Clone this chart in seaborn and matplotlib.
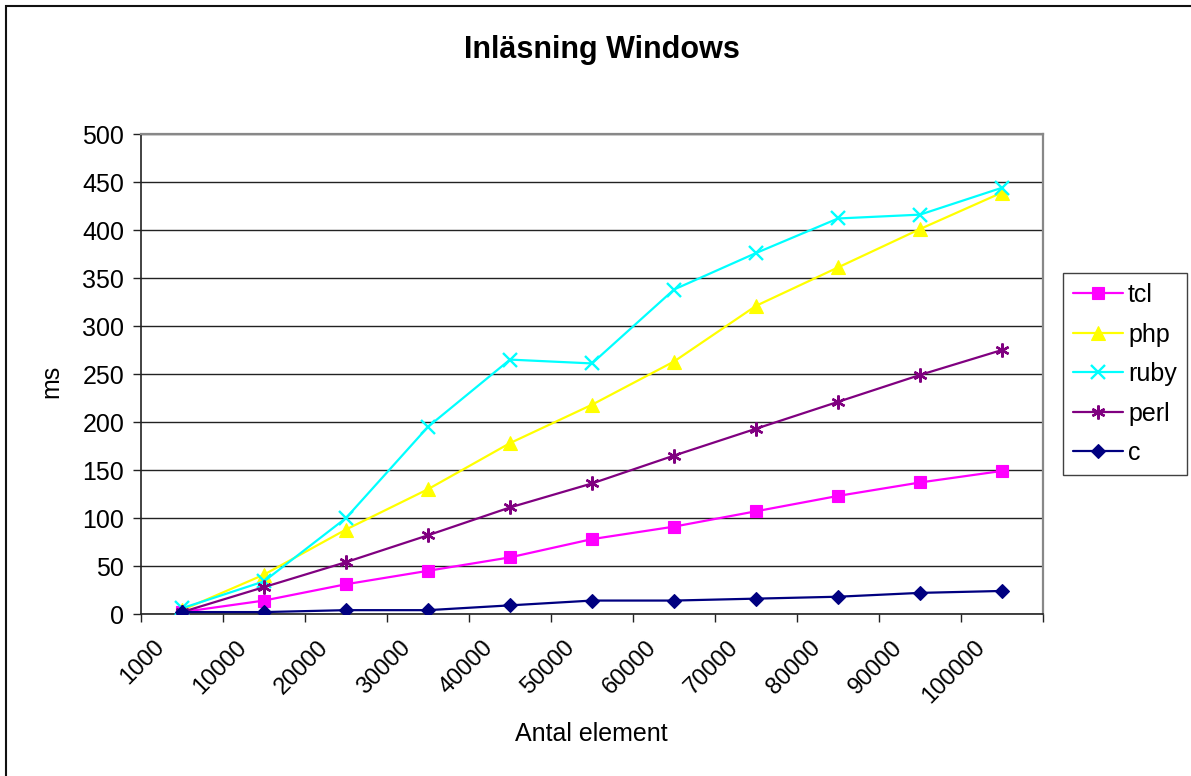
import matplotlib
matplotlib.use("Agg")
import matplotlib.pyplot as plt
import matplotlib.transforms as mtransforms
from matplotlib.lines import Line2D
from matplotlib.patches import Rectangle
import numpy as np
import pandas as pd
import seaborn as sns

# Number of elements read (x categories)
antal = ["1000", "10000", "20000", "30000", "40000", "50000",
         "60000", "70000", "80000", "90000", "100000"]

# Read times in ms per language
tcl = [2, 14, 31, 45, 59, 78, 91, 107, 123, 137, 149]
php = [4, 41, 88, 130, 178, 218, 263, 321, 361, 401, 439]
ruby = [6, 34, 100, 195, 265, 261, 338, 376, 412, 416, 444]
perl = [2, 28, 54, 82, 111, 136, 165, 193, 221, 249, 275]
c = [2, 2, 4, 4, 9, 14, 14, 16, 18, 22, 24]

series = ["tcl", "php", "ruby", "perl", "c"]
values = {"tcl": tcl, "php": php, "ruby": ruby, "perl": perl, "c": c}

colors = {"tcl": "#FF00FF", "php": "#FFFF00", "ruby": "#00FFFF",
          "perl": "#800080", "c": "#000080"}
markers = {"tcl": "s", "php": "^", "ruby": "x", "perl": (6, 2, 0), "c": "D"}
msizes = {"tcl": 8, "php": 9.5, "ruby": 9.5, "perl": 10, "c": 7}
line_art = {"ruby", "perl"}

rows = []
for name in series:
    for i, v in enumerate(values[name]):
        rows.append({"pos": i, "ms": v, "lang": name})
df = pd.DataFrame(rows)

sns.set_theme(style="white")
plt.rcParams["font.family"] = ["Liberation Sans", "DejaVu Sans"]
for key in ("text.color", "axes.labelcolor", "xtick.color", "ytick.color"):
    plt.rcParams[key] = "black"

W, H = 1191, 776
fig = plt.figure(figsize=(W / 100, H / 100), dpi=100)
ax = fig.add_axes([141 / W, 1 - 614 / H, (1043 - 141) / W, (614 - 134) / H])

sns.lineplot(data=df, x="pos", y="ms", hue="lang", hue_order=series,
             palette=colors, linewidth=1.6, legend=False, ax=ax)

# seaborn won't mix filled and line-art markers, so set them per line
for line, name in zip(ax.lines, series):
    col = colors[name]
    line.set_marker(markers[name])
    line.set_markeredgecolor(col)
    line.set_markerfacecolor(col)
    line.set_markersize(msizes[name])
    line.set_markeredgewidth(1.7 if name in line_art else 0.8)
    line.set_zorder(3)

# Axes, ticks and grid
ax.set_xlim(-0.5, len(antal) - 0.5)
ax.set_ylim(0, 500)
ax.set_yticks(np.arange(0, 501, 50))
ax.yaxis.grid(True, color="#222222", linewidth=1.0)
ax.xaxis.grid(False)
ax.set_axisbelow(True)

ax.set_xticks(np.arange(-0.5, len(antal), 1.0))
ax.set_xticklabels([])
ax.set_xticks(np.arange(len(antal)), minor=True)
ax.set_xticklabels(antal, minor=True, rotation=45, ha="right",
                   rotation_mode="default", fontsize=17)
ax.tick_params(axis="x", which="major", direction="out", length=6,
               width=1, color="#222222", bottom=True)
ax.tick_params(axis="x", which="minor", length=0, pad=16, bottom=True)
ax.tick_params(axis="y", direction="out", length=6, width=1,
               color="#222222", labelsize=18, pad=6, left=True)

shift = mtransforms.ScaledTranslation(-13 / 100, 0, fig.dpi_scale_trans)
for lab in ax.get_xticklabels(minor=True):
    lab.set_transform(lab.get_transform() + shift)

for side in ("top", "right"):
    ax.spines[side].set_color("#888888")
    ax.spines[side].set_linewidth(1.6)
for side in ("left", "bottom"):
    ax.spines[side].set_color("#222222")
    ax.spines[side].set_linewidth(1.2)

ax.set_xlabel("")
ax.set_ylabel("")

fig.text(51 / W, 1 - 381 / H, "ms", ha="center", va="center",
         rotation=90, fontsize=18)
fig.text(602 / W, 1 - 58 / H, "Inläsning Windows", ha="center",
         va="baseline", fontsize=22, fontweight="bold")
fig.text(591 / W, 1 - 741 / H, "Antal element", ha="center",
         va="baseline", fontsize=18)

# Legend
handles = [Line2D([0], [0], color=colors[n], linewidth=1.6, marker=markers[n],
                  markersize=msizes[n], markerfacecolor=colors[n],
                  markeredgecolor=colors[n],
                  markeredgewidth=1.7 if n in line_art else 0.8)
           for n in series]
leg = fig.legend(handles, series, loc="upper left",
                 bbox_to_anchor=(1063 / W, 1 - 273 / H), borderaxespad=0,
                 fontsize=18, frameon=True, fancybox=False, shadow=False,
                 handlelength=2.0, handletextpad=0.2, labelspacing=0.62,
                 borderpad=0.4)
leg.get_frame().set_edgecolor("#111111")
leg.get_frame().set_linewidth(1.0)

# Outer chart frame
fig.add_artist(Rectangle((6 / W, -0.5), 2, 0.5 + 1 - 6 / H,
                         transform=fig.transFigure, fill=False,
                         edgecolor="#111111", linewidth=1.5))

fig.savefig("out.png", dpi=100, facecolor="white")
